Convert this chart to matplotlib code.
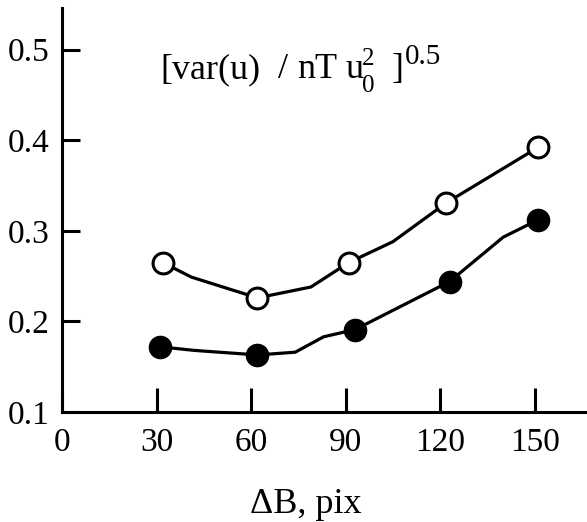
"""Normalised velocity spread versus window size dB (two data sets)."""
import matplotlib
matplotlib.use("Agg")
import matplotlib.pyplot as plt

# marker positions
open_x = [32, 62, 91, 122, 151]
open_y = [0.265, 0.226, 0.265, 0.331, 0.392]
filled_x = [31, 62, 93, 123, 151]
filled_y = [0.172, 0.163, 0.191, 0.244, 0.312]

# hand-drawn connecting curves (pass through the markers)
open_line_x = [32, 41, 62, 79, 91, 105, 122, 151]
open_line_y = [0.265, 0.249, 0.226, 0.238, 0.265, 0.288, 0.331, 0.392]
filled_line_x = [31, 42, 62, 74, 83, 93, 123, 140, 151]
filled_line_y = [0.172, 0.168, 0.163, 0.166, 0.183, 0.191, 0.244, 0.293, 0.312]

x_ticks = [0, 30, 60, 90, 120, 150]
y_ticks = [0.1, 0.2, 0.3, 0.4, 0.5]

plt.rcParams["font.family"] = ["Liberation Serif", "DejaVu Serif"]

W, H = 587, 522
fig = plt.figure(figsize=(W / 100, H / 100), dpi=100)
ax = fig.add_axes([62 / W, 110 / H, 525 / W, 404 / H])

lw = 2.3
ax.plot(open_line_x, open_line_y, color="black", lw=lw, zorder=2)
ax.plot(filled_line_x, filled_line_y, color="black", lw=lw, zorder=2)
ax.plot(open_x, open_y, "o", ms=15, mfc="white", mec="black", mew=2.2,
        ls="none", zorder=3)
ax.plot(filled_x, filled_y, "o", ms=16, mfc="black", mec="black",
        ls="none", zorder=3)

ax.set_xlim(0, 166.6)
ax.set_ylim(0.1, 0.546)
ax.set_xticks(x_ticks)
ax.set_yticks(y_ticks)
ax.set_xticklabels([str(v) for v in x_ticks])
ax.set_yticklabels([f"{v:.1f}" for v in y_ticks])

for side in ("top", "right"):
    ax.spines[side].set_visible(False)
for side in ("left", "bottom"):
    ax.spines[side].set_linewidth(2.2)

ax.tick_params(axis="x", direction="in", length=17, width=2.2,
               labelsize=24, pad=11)
ax.tick_params(axis="y", direction="in", length=13, width=2.2,
               labelsize=24, pad=9)

ax.set_xlabel("\u0394B, pix", fontsize=26)
ax.xaxis.set_label_coords((306 - 62) / 525, -0.188)


def put(px, py, s, size):
    """Place a text piece by pixel position (left, baseline)."""
    fig.text(px / W, 1 - py / H, s, fontsize=size, ha="left", va="baseline")


# formula label: [var(u) / nT u0^2 ]^0.5
put(160, 78, "[var(u)", 26)
put(278, 78, "/", 26)
put(297, 78, "nT", 26)
put(345, 78, "u", 26)
put(362, 65, "2", 18)
put(362, 92, "0", 18)
put(392, 78, "]", 26)
put(405, 64, "0.5", 21)

fig.savefig("out.png", dpi=100)
